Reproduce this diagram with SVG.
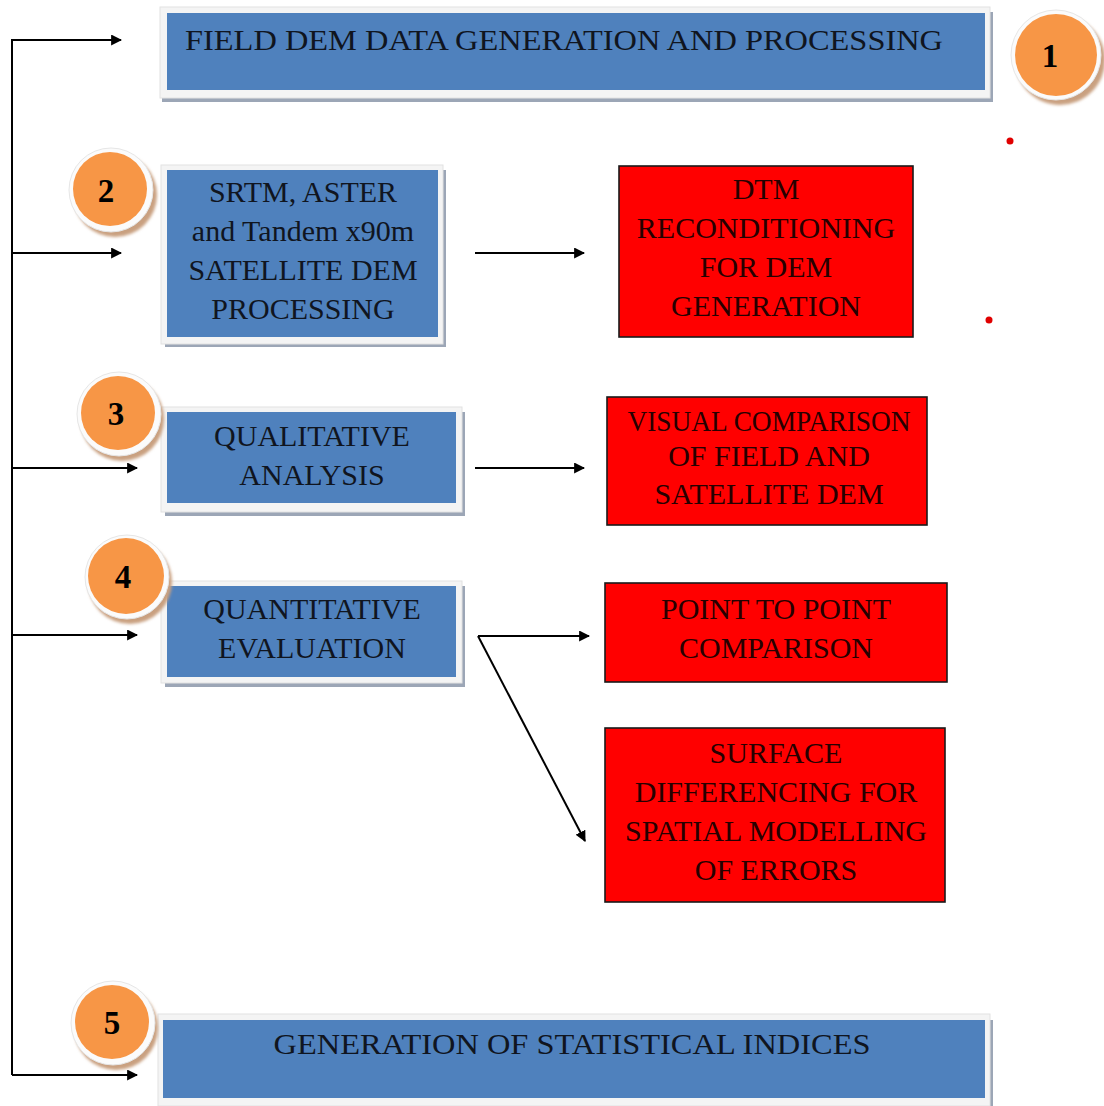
<svg xmlns="http://www.w3.org/2000/svg" width="1104" height="1106" viewBox="0 0 1104 1106">
<defs>
<marker id="ah" viewBox="0 0 10 10" refX="9" refY="5" markerWidth="11" markerHeight="11" markerUnits="userSpaceOnUse" orient="auto">
<path d="M0,0 L10,5 L0,10 z" fill="#000"/>
</marker>
<filter id="blur1" x="-20%" y="-20%" width="140%" height="140%"><feGaussianBlur stdDeviation="1.5"/></filter>
</defs>
<style>
.shadow{fill:#9ca6b6;}
.frame{fill:#f4f4f4;stroke:#e2e2e2;stroke-width:1;}
.blue{fill:#4f81bd;}
.red{fill:#ff0000;stroke:#1a1a1a;stroke-width:1.6;}
.ring{fill:#fbfbfb;stroke:#e6e6e6;stroke-width:1;}
.cshadow{fill:#c9a080;filter:url(#blur1);}
.orange{fill:#f79646;}
.t{font-family:"Liberation Serif","Times New Roman",serif;font-size:30px;fill:#10151f;text-anchor:middle;}
.tr{font-family:"Liberation Serif","Times New Roman",serif;font-size:30px;fill:#260000;text-anchor:middle;}
.num{font-family:"Liberation Serif","Times New Roman",serif;font-size:33px;font-weight:bold;fill:#000;text-anchor:middle;}
.ln{fill:none;stroke:#000;stroke-width:2;}
</style>
<rect width="1104" height="1106" fill="#fff"/>

<g id="connectors">
<path class="ln" d="M12,1075 L12,40 L121,40" marker-end="url(#ah)"/>
<path class="ln" d="M12,253 L121,253" marker-end="url(#ah)"/>
<path class="ln" d="M12,468 L137,468" marker-end="url(#ah)"/>
<path class="ln" d="M12,635 L137,635" marker-end="url(#ah)"/>
<path class="ln" d="M12,1075 L137,1075" marker-end="url(#ah)"/>
<path class="ln" d="M475,253 L584,253" marker-end="url(#ah)"/>
<path class="ln" d="M475,468 L584,468" marker-end="url(#ah)"/>
<path class="ln" d="M478,636 L589,636" marker-end="url(#ah)"/>
<path class="ln" d="M478,636 L585,841" marker-end="url(#ah)"/>
</g>

<g id="node1">
<rect class="shadow" x="162" y="12" width="831" height="90"/>
<rect class="frame" x="160" y="7" width="830" height="91"/>
<rect class="blue" x="167" y="13" width="818" height="77"/>
<text class="t" x="564" y="50" textLength="758" lengthAdjust="spacingAndGlyphs">FIELD DEM DATA GENERATION AND PROCESSING</text>
</g>

<g id="badge1">
<circle class="cshadow" cx="1060" cy="60" r="45"/>
<circle class="ring" cx="1056" cy="55" r="45"/>
<circle class="orange" cx="1056" cy="55" r="41"/>
<text class="num" x="1050" y="67">1</text>
</g>

<g id="node2">
<rect class="shadow" x="165" y="170" width="281" height="177"/>
<rect class="frame" x="161" y="165" width="282" height="179"/>
<rect class="blue" x="167" y="170" width="271" height="167"/>
<text class="t" x="303" y="202">SRTM, ASTER</text>
<text class="t" x="303" y="241">and Tandem x90m</text>
<text class="t" x="303" y="280">SATELLITE DEM</text>
<text class="t" x="303" y="319">PROCESSING</text>
</g>

<g id="badge2">
<circle class="cshadow" cx="115" cy="195" r="42"/>
<circle class="ring" cx="111" cy="190" r="42"/>
<circle class="orange" cx="110" cy="189" r="37"/>
<text class="num" x="106" y="202">2</text>
</g>

<g id="node3">
<rect class="shadow" x="165" y="412" width="300" height="104"/>
<rect class="frame" x="161" y="407" width="301" height="105"/>
<rect class="blue" x="167" y="412" width="289" height="91"/>
<text class="t" x="312" y="446">QUALITATIVE</text>
<text class="t" x="312" y="485">ANALYSIS</text>
</g>

<g id="badge3">
<circle class="cshadow" cx="122" cy="419" r="42"/>
<circle class="ring" cx="119" cy="414" r="42"/>
<circle class="orange" cx="118" cy="413" r="37"/>
<text class="num" x="116" y="425">3</text>
</g>

<g id="node4">
<rect class="shadow" x="165" y="586" width="300" height="101"/>
<rect class="frame" x="161" y="581" width="301" height="102"/>
<rect class="blue" x="167" y="586" width="289" height="91"/>
<text class="t" x="312" y="619">QUANTITATIVE</text>
<text class="t" x="312" y="658">EVALUATION</text>
</g>

<g id="badge4">
<circle class="cshadow" cx="130" cy="582" r="42"/>
<circle class="ring" cx="127" cy="577" r="42"/>
<circle class="orange" cx="126" cy="576" r="38"/>
<text class="num" x="123" y="588">4</text>
</g>

<g id="node5">
<rect class="shadow" x="162" y="1020" width="831" height="86"/>
<rect class="frame" x="158" y="1014" width="832" height="92"/>
<rect class="blue" x="163" y="1020" width="822" height="78"/>
<text class="t" x="572" y="1054" textLength="597" lengthAdjust="spacingAndGlyphs">GENERATION OF STATISTICAL INDICES</text>
</g>

<g id="badge5">
<circle class="cshadow" cx="116" cy="1028" r="42"/>
<circle class="ring" cx="113" cy="1023" r="42"/>
<circle class="orange" cx="112" cy="1022" r="37"/>
<text class="num" x="112" y="1034">5</text>
</g>

<g id="nodeR1">
<rect class="red" x="619" y="166" width="294" height="171"/>
<text class="tr" x="766" y="199">DTM</text>
<text class="tr" x="766" y="238">RECONDITIONING</text>
<text class="tr" x="766" y="277">FOR DEM</text>
<text class="tr" x="766" y="316">GENERATION</text>
</g>

<g id="nodeR2">
<rect class="red" x="607" y="397" width="320" height="128"/>
<text class="tr" x="769" y="431" textLength="283" lengthAdjust="spacingAndGlyphs">VISUAL COMPARISON</text>
<text class="tr" x="769" y="466">OF FIELD AND</text>
<text class="tr" x="769" y="504">SATELLITE DEM</text>
</g>

<g id="nodeR3">
<rect class="red" x="605" y="583" width="342" height="99"/>
<text class="tr" x="776" y="619">POINT TO POINT</text>
<text class="tr" x="776" y="658">COMPARISON</text>
</g>

<g id="nodeR4">
<rect class="red" x="605" y="728" width="340" height="174"/>
<text class="tr" x="776" y="763">SURFACE</text>
<text class="tr" x="776" y="802">DIFFERENCING FOR</text>
<text class="tr" x="776" y="841">SPATIAL MODELLING</text>
<text class="tr" x="776" y="880">OF ERRORS</text>
</g>

<circle cx="1010" cy="141" r="3.5" fill="#e00000"/>
<circle cx="989" cy="320" r="3.5" fill="#e00000"/>
</svg>
